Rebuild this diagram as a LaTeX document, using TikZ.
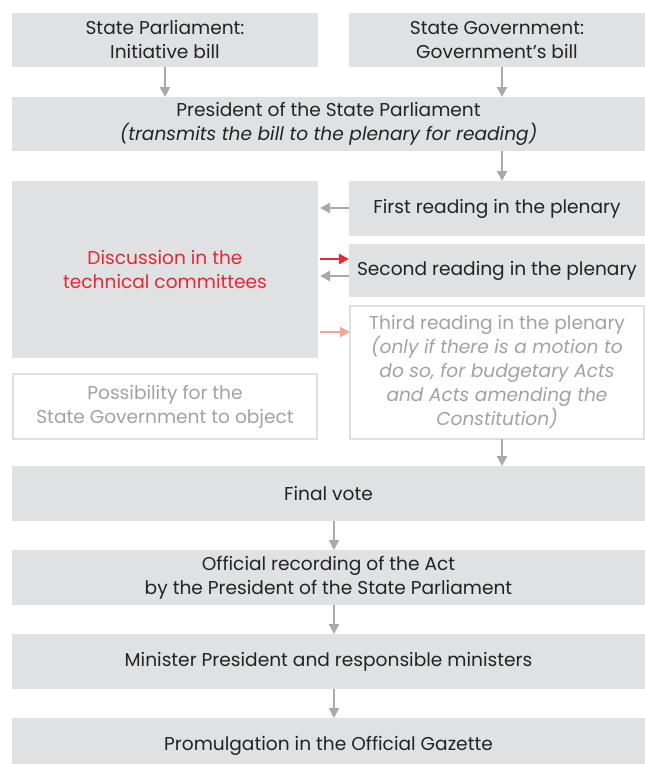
\documentclass[tikz,border=0pt]{standalone}
\usepackage{fontspec}
\setmainfont{Poppins}
\usetikzlibrary{arrows.meta}
\definecolor{boxgrey}{RGB}{224,225,226}
\definecolor{arrgrey}{RGB}{167,169,172}
\definecolor{txtdark}{RGB}{35,35,35}
\definecolor{txtlight}{RGB}{160,162,165}
\definecolor{redc}{RGB}{228,40,52}
\definecolor{pinkc}{RGB}{242,166,152}
\definecolor{bordergrey}{RGB}{222,223,224}
\begin{document}
\begin{tikzpicture}[x=1pt,y=-1pt,
  every node/.style={inner sep=0pt, outer sep=0pt, align=center, text=txtdark,
    font=\fontsize{18.6}{24}\selectfont},
  gbox/.style={fill=boxgrey, draw=none},
  wbox/.style={fill=white, draw=bordergrey, line width=2pt},
  arr/.style={draw=arrgrey, line width=2.2pt, -{Triangle[width=10pt,length=10pt]}},
]
\useasboundingbox (0,0) rectangle (645,764);
\clip (0,0) rectangle (645,764);
\coordinate (colR) at (502,0);
\coordinate (colM) at (334,0);

\node[gbox, minimum width=306pt, minimum height=54pt] (sp) at (165,40) {State Parliament:\\Initiative bill};
\node[gbox, minimum width=296pt, minimum height=54pt] (sg) at (497,40) {State Government:\\Government’s bill};
\node[gbox, minimum width=633pt, minimum height=54pt] (pres) at (328.5,124) {President of the State Parliament\\\itshape (transmits the bill to the plenary for reading)};
\node[gbox, minimum width=306pt, minimum height=177pt, text=redc] (disc) at (165,269.5) {Discussion in the\\technical committees};
\node[gbox, minimum width=296pt, minimum height=55pt] (first) at (497,208.5) {First reading in the plenary};
\node[gbox, minimum width=296pt, minimum height=53pt] (second) at (497,270.5) {Second reading in the plenary};
\node[wbox, minimum width=294pt, minimum height=133pt, text=txtlight] (third) at (497,372.5) {Third reading in the plenary\\\itshape (only if there is a motion to\\\itshape do so, for budgetary Acts\\\itshape and Acts amending the\\\itshape Constitution)};
\node[wbox, minimum width=304pt, minimum height=65pt, text=txtlight] (poss) at (165,406.5) {Possibility for the\\State Government to object};
\node[gbox, minimum width=633pt, minimum height=55pt] (final) at (328.5,493.5) {Final vote};
\node[gbox, minimum width=633pt, minimum height=55pt] (rec) at (328.5,577.5) {Official recording of the Act\\by the President of the State Parliament};
\node[gbox, minimum width=633pt, minimum height=55pt] (mp) at (328.5,661.5) {Minister President and responsible ministers};
\node[gbox, minimum width=633pt, minimum height=56pt] (prom) at (328.5,746) {Promulgation in the Official Gazette};

\draw[arr] (sp.south) -- (pres.north -| sp.south);
\draw[arr] (sg.south -| colR) -- (pres.north -| colR);
\draw[arr] (pres.south -| colR) -- (first.north -| colR);
\draw[arr] (third.south -| colR) -- (final.north -| colR);
\draw[arr] (final.south -| colM) -- (rec.north -| colM);
\draw[arr] (rec.south -| colM) -- (mp.north -| colM);
\draw[arr] (mp.south -| colM) -- (prom.north -| colM);

\coordinate (yA) at (0,208);
\coordinate (yB) at (0,259);
\coordinate (yC) at (0,276);
\coordinate (yD) at (0,332);
\draw[arr, shorten >=2pt] (first.west |- yA) -- (disc.east |- yA);
\draw[arr, draw=redc, shorten <=2pt] (disc.east |- yB) -- (second.west |- yB);
\draw[arr, shorten >=2pt] (second.west |- yC) -- (disc.east |- yC);
\draw[arr, draw=pinkc, shorten <=2pt] (disc.east |- yD) -- (third.west |- yD);
\end{tikzpicture}
\end{document}
